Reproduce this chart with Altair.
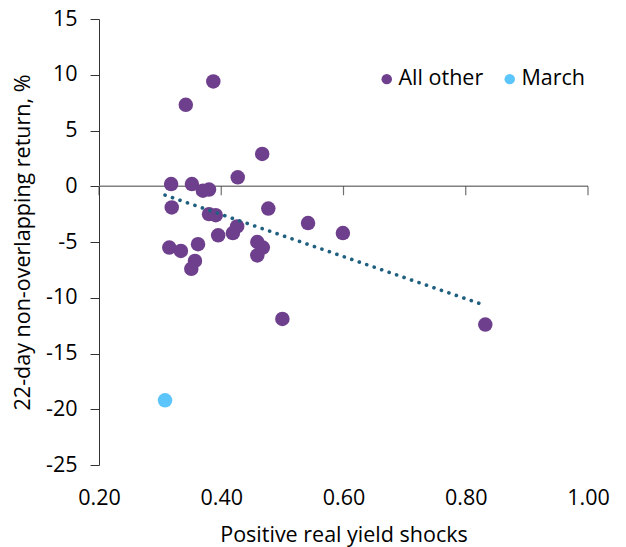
import altair as alt
import pandas as pd

# Data
other_x = [0.318, 0.387, 0.342, 0.467, 0.427, 0.352, 0.370, 0.380, 0.319, 0.477,
           0.380, 0.391, 0.542, 0.426, 0.419, 0.395, 0.599, 0.459, 0.362, 0.315,
           0.334, 0.468, 0.459, 0.357, 0.351, 0.500, 0.832]
other_y = [0.2, 9.4, 7.3, 2.9, 0.8, 0.2, -0.4, -0.3, -1.9, -2.0,
           -2.5, -2.6, -3.3, -3.6, -4.2, -4.4, -4.2, -5.0, -5.2, -5.5,
           -5.8, -5.5, -6.2, -6.7, -7.4, -11.9, -12.4]
march_x = [0.308]
march_y = [-19.2]

groups = ["All other", "March"]
colors = ["#6E3F8C", "#5CC5FC"]
x_ticks = [0.2, 0.4, 0.6, 0.8, 1.0]
y_ticks = [-25, -20, -15, -10, -5, 0, 5, 10, 15]

df = pd.DataFrame({
    "x": other_x + march_x,
    "y": other_y + march_y,
    "group": [groups[0]] * len(other_x) + [groups[1]] * len(march_x),
})
all_x = other_x + march_x
FONT = "Open Sans"
FS = 21.5
X_TITLE = "Positive real yield shocks"
Y_TITLE = "22-day non-overlapping return, %"

xscale = alt.Scale(domain=[x_ticks[0], x_ticks[-1]], nice=False, zero=False)
yscale = alt.Scale(domain=[y_ticks[0], y_ticks[-1]], nice=False, zero=False)

points = alt.Chart(df).mark_circle(size=210, opacity=1).encode(
    x=alt.X("x:Q", scale=xscale, title=X_TITLE, axis=alt.Axis(
        values=x_ticks, format=".2f", labelFlush=False,
        domain=False, ticks=False, grid=False, labelPadding=22,
        labelFontSize=FS, labelColor="#000", titleFontSize=FS,
        titleFontWeight="normal", titleColor="#000", titlePadding=16,
        labelFont=FONT, titleFont=FONT)),
    y=alt.Y("y:Q", scale=yscale, title=Y_TITLE, axis=alt.Axis(
        values=y_ticks, labelFlush=False,
        labelExpr="toString(datum.value)", grid=False, domainColor="#333",
        tickColor="#333", tickSize=9, labelPadding=13, labelFontSize=FS,
        labelColor="#000", titleFontSize=FS, titleFontWeight="normal",
        titleColor="#000", titlePadding=11, labelFont=FONT, titleFont=FONT)),
    color=alt.Color("group:N", scale=alt.Scale(domain=groups, range=colors),
                    legend=alt.Legend(title=None, orient="none", legendX=277,
                                      legendY=49, direction="horizontal",
                                      labelFontSize=FS, labelFont=FONT,
                                      labelColor="#000", symbolSize=110,
                                      symbolType="circle", columnPadding=15,
                                      labelOffset=1, symbolStrokeWidth=0)),
)

zero_df = pd.DataFrame({"x": [x_ticks[0]], "x2": [x_ticks[-1]], "y": [0]})
zero_line = alt.Chart(zero_df).mark_rule(
    color="#808080", strokeWidth=1.5).encode(
    x=alt.X("x:Q", scale=xscale, title=X_TITLE),
    x2="x2:Q",
    y=alt.Y("y:Q", scale=yscale, title=Y_TITLE),
)

ticks_df = pd.DataFrame({"x": x_ticks, "y": [0] * len(x_ticks)})
ticks = alt.Chart(ticks_df).mark_tick(
    orient="vertical", size=9, yOffset=4.5, thickness=1.2, color="#333").encode(
    x=alt.X("x:Q", scale=xscale, title=X_TITLE),
    y=alt.Y("y:Q", scale=yscale, title=Y_TITLE),
)

trend = alt.Chart(df).transform_filter(
    alt.datum.group == groups[0]
).transform_regression(
    "x", "y", extent=[min(all_x), max(all_x)]
).mark_line(
    strokeDash=[0.1, 7.8], strokeCap="round", strokeWidth=3.6, color="#1F5F7F"
).encode(
    x=alt.X("x:Q", scale=xscale, title=X_TITLE),
    y=alt.Y("y:Q", scale=yscale, title=Y_TITLE),
)

chart = alt.layer(zero_line, ticks, points, trend).properties(
    width=489, height=446,
    autosize=alt.AutoSizeParams(type="none"),
    padding={"left": 91, "top": 11, "right": 30, "bottom": 86},
).configure(font=FONT).configure_view(stroke=None)

chart.save("out.html", embed_options={"renderer": "svg", "actions": False})
